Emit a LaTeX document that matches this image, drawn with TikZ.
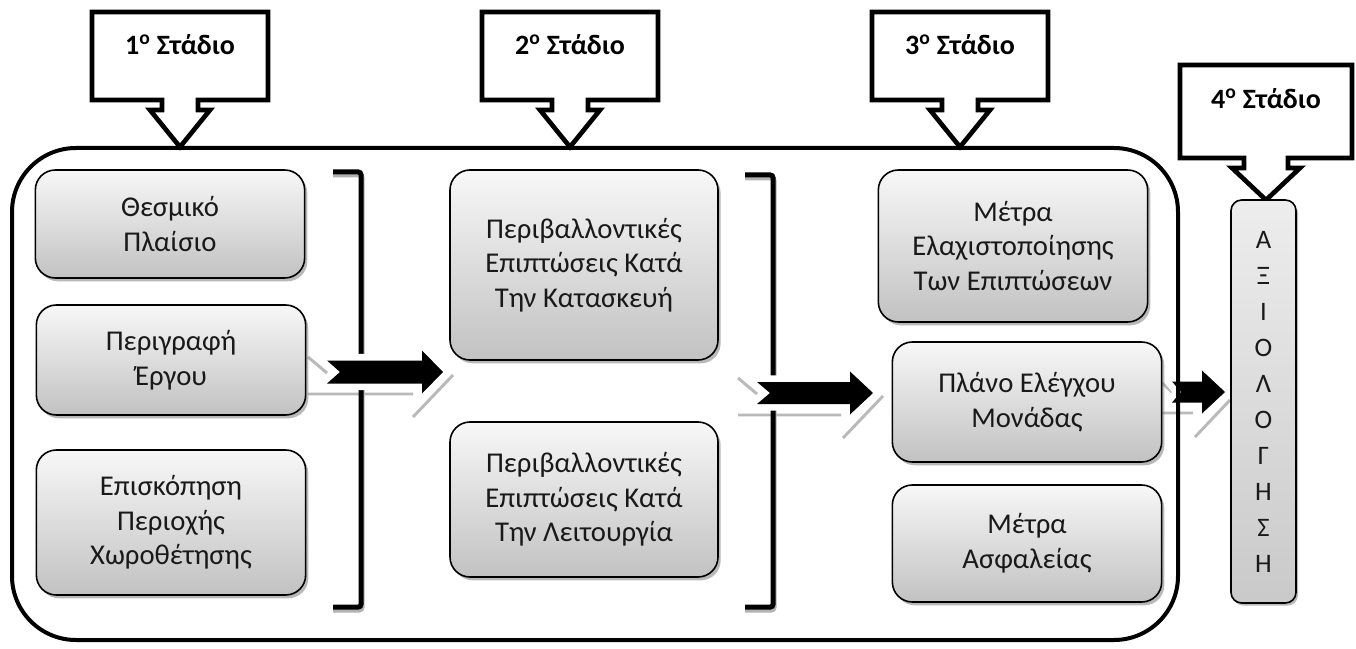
\documentclass[tikz,border=0pt]{standalone}
\usepackage{fontspec}
\setmainfont{Carlito}
\usetikzlibrary{shadows}
\newcommand\mycallout[8]{%
  \draw[callout] ({#1-#4},#2) -- ({#1+#4},#2) -- ({#1+#4},#3) -- ({#1+#5},#3) -- ({#1+#5},#6) -- ({#1+#7},#6) -- (#1,#8) -- ({#1-#7},#6) -- ({#1-#5},#6) -- ({#1-#5},#3) -- ({#1-#4},#3) -- cycle;}
\newcommand\blockarrow[7]{%
  \draw[white, line width=10pt, line join=round] (#1,{#4-#5}) -- (#2,{#4-#5}) -- (#2,{#4-#6}) -- (#3,#4) -- (#2,{#4+#6}) -- (#2,{#4+#5}) -- (#1,{#4+#5}) -- ({#1+#7},#4) -- cycle;
  \fill[black] (#1,{#4-#5}) -- (#2,{#4-#5}) -- (#2,{#4-#6}) -- (#3,#4) -- (#2,{#4+#6}) -- (#2,{#4+#5}) -- (#1,{#4+#5}) -- ({#1+#7},#4) -- cycle;}
\begin{document}
\begin{tikzpicture}[x=0.75pt,y=-0.75pt,
  gbox/.style={draw=black, line width=1.2pt, rounded corners=15pt, top color=gray!6, bottom color=gray!48,
    drop shadow={shadow xshift=2pt,shadow yshift=-2.5pt,fill=black!55}, align=center,
    font=\fontsize{21.5}{26}\selectfont, text=black!90, inner sep=0pt, minimum width=202pt},
  vboxst/.style={draw=black, line width=1.2pt, rounded corners=8pt, top color=gray!14, bottom color=gray!42,
    drop shadow={shadow xshift=1.5pt,shadow yshift=-2pt,fill=black!55}, align=center,
    font=\fontsize{20}{27}\selectfont, text=black!90, inner sep=0pt},
  callout/.style={draw=black, line width=3.5pt, fill=white, line join=miter},
  ctext/.style={font=\bfseries\fontsize{21}{25}\selectfont, text=black},
  bigframe/.style={draw=black, line width=3pt, rounded corners=48pt},
  bracketst/.style={line width=3.75pt, rounded corners=2pt},
  reflect/.style={draw=gray!55, line width=2.2pt},
]
\useasboundingbox (0,0) rectangle (1356,649);
% reflections of the block arrows
\draw[reflect] (308,357) -- (327,373) (308,394) -- (413,394) (413,417) -- (453,375);
\draw[reflect] (738,378) -- (757,394) (738,415) -- (841,415) (843,438) -- (883,396);
\draw[reflect] (1162,383) -- (1172,392) (1162,413) -- (1193,413) (1195,437) -- (1230,400);
% brackets
\draw[bracketst, gray!60] (333,175) -- (362,175) -- (362,610) -- (333,610);
\draw[bracketst, black] (333,172) -- (361,172) -- (361,607) -- (333,607);
\draw[bracketst, gray!60] (745,178) -- (774,178) -- (774,610) -- (745,610);
\draw[bracketst, black] (745,175) -- (773,175) -- (773,607) -- (745,607);
% block arrows
\blockarrow{327}{422}{443}{372}{11.5}{21.5}{13}
\blockarrow{757}{850}{873}{393}{11}{21.5}{13}
\blockarrow{1172}{1202}{1225}{392}{10.5}{21.5}{9}
% big frame
\draw[bigframe] (12,148) rectangle (1178,640);
% callouts
\mycallout{180}{12}{100}{88}{18}{110}{30}{147}
\mycallout{570}{12}{100}{88}{18}{110}{30}{147}
\mycallout{960}{12}{100}{88}{18}{110}{30}{147}
\mycallout{1266}{65}{158}{86}{22}{168}{34}{200}
\node[ctext] (s1) at (180,45) {1\textsuperscript{ο} Στάδιο};
\node[ctext] (s2) at (570,45) {2\textsuperscript{ο} Στάδιο};
\node[ctext] (s3) at (960,45) {3\textsuperscript{ο} Στάδιο};
\node[ctext] (s4) at (1266,99) {4\textsuperscript{ο} Στάδιο};
% boxes
\node[gbox, minimum height=81pt] (c1a) at (170,224) {Θεσμικό\\Πλαίσιο};
\node[gbox, minimum height=82.5pt] (c1b) at (171,360) {Περιγραφή\\Έργου};
\node[gbox, minimum height=108.75pt] (c1c) at (171,522.5) {Επισκόπηση\\Περιοχής\\Χωροθέτησης};
\node[gbox, minimum width=201pt, minimum height=142.5pt] (c2a) at (584,265) {Περιβαλλοντικές\\Επιπτώσεις Κατά\\Την Κατασκευή};
\node[gbox, minimum width=201pt, minimum height=116.25pt] (c2b) at (584,499.5) {Περιβαλλοντικές\\Επιπτώσεις Κατά\\Την Λειτουργία};
\node[gbox, minimum height=114pt] (c3a) at (1013,246) {Μέτρα\\Ελαχιστοποίησης\\Των Επιπτώσεων};
\node[gbox, minimum height=90pt] (c3b) at (1027,402) {Πλάνο Ελέγχου\\Μονάδας};
\node[gbox, minimum height=87.75pt] (c3c) at (1027,543.5) {Μέτρα\\Ασφαλείας};
\node[vboxst, minimum width=48.75pt, minimum height=302.25pt] (eval) at (1263.5,401.5) {Α\\Ξ\\Ι\\Ο\\Λ\\Ο\\Γ\\Η\\Σ\\Η};
\end{tikzpicture}
\end{document}
